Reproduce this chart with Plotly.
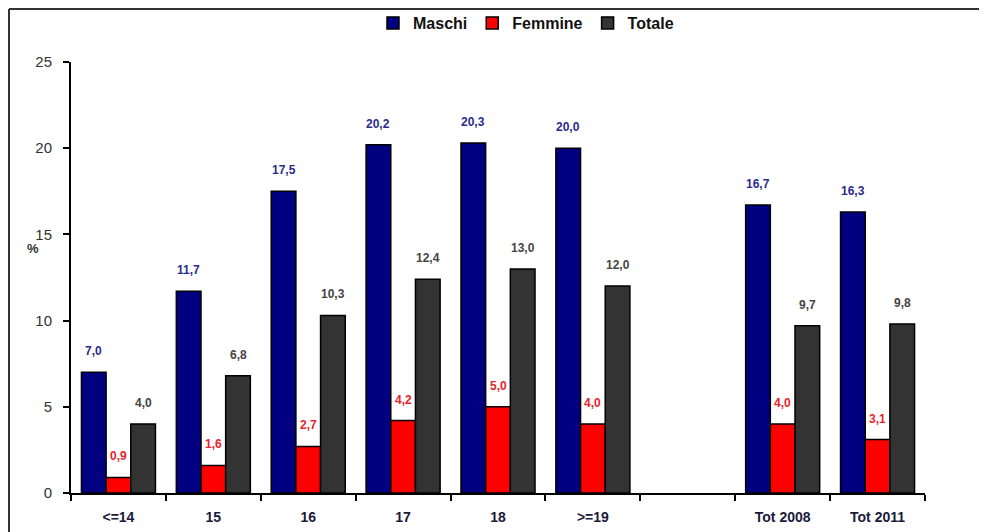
import plotly.graph_objects as go

categories = ['<=14', '15', '16', '17', '18', '>=19', ' ', 'Tot 2008', 'Tot 2011']
maschi = [7.0, 11.7, 17.5, 20.2, 20.3, 20.0, None, 16.7, 16.3]
femmine = [0.9, 1.6, 2.7, 4.2, 5.0, 4.0, None, 4.0, 3.1]
totale = [4.0, 6.8, 10.3, 12.4, 13.0, 12.0, None, 9.7, 9.8]
y_ticks = [0, 5, 10, 15, 20, 25]

series = [
    ('Maschi', maschi, '#000080', '#2b2b8c'),
    ('Femmine', femmine, '#ff0000', '#e8232b'),
    ('Totale', totale, '#333333', '#444444'),
]

# page body has an 8px margin, so the figure is a bit smaller than the window
W, H = 979, 524
L, R, T, B = 63, 62, 54, 39
PW, PH = W - L - R, H - T - B
BARGAP = 0.22

fig = go.Figure()
for name, vals, col, _ in series:
    fig.add_trace(go.Bar(
        name=name, x=categories, y=vals,
        marker=dict(color=col, line=dict(color='#000000', width=1.5)),
    ))

# value labels above bars (x as category index, shifted onto each bar of the group)
cat_px = PW / len(categories)
bar_px = cat_px * (1 - BARGAP) / len(series)
for i, (name, vals, _, tcol) in enumerate(series):
    for j, v in enumerate(vals):
        if v is None:
            continue
        fig.add_annotation(
            x=j, y=v, text=f'{v:.1f}'.replace('.', ','),
            xshift=(i - 1) * bar_px, yshift=21, showarrow=False,
            font=dict(family='Arial, Liberation Sans', size=12, color=tcol, weight='bold'),
        )

fig.add_annotation(
    xref='paper', yref='paper', x=(17 - L) / PW, y=1 - (240 - T) / PH, text='%', showarrow=False,
    font=dict(family='Arial, Liberation Sans', size=13, color='#333333', weight='bold'),
)

# outer frame (left and top edges visible)
frame_x = (1 - L) / PW
frame_y = 1 + (T - 1) / PH
fig.add_shape(type='line', xref='paper', yref='paper',
              x0=frame_x, x1=1.2, y0=frame_y, y1=frame_y,
              line=dict(color='#333333', width=2))
fig.add_shape(type='line', xref='paper', yref='paper',
              x0=frame_x, x1=frame_x, y0=-0.2, y1=frame_y,
              line=dict(color='#333333', width=2))

fig.update_layout(
    width=W, height=H,
    margin=dict(l=L, r=R, t=T, b=B, autoexpand=False),
    paper_bgcolor='white', plot_bgcolor='white',
    barmode='group', bargap=BARGAP, bargroupgap=0,
    showlegend=True,
    legend=dict(orientation='h', x=(518 - L) / PW, xanchor='center', y=1 + (T - 15) / PH, yanchor='middle',
                bgcolor='rgba(0,0,0,0)',
                font=dict(family='Liberation Sans Narrow, Arial Narrow, Arial', size=16, color='#111111', weight='bold'),
                itemwidth=30, tracegroupgap=0),
    xaxis=dict(
        type='category', categoryorder='array', categoryarray=categories,
        range=[-0.5, len(categories) - 0.5], tickangle=0,
        showline=True, linecolor='#000000', linewidth=2,
        ticks='outside', tickson='boundaries', ticklen=6, tickcolor='#000000', tickwidth=2,
        tickfont=dict(family='Arial, Liberation Sans', size=14, color='#1a1a3a', weight='bold'),
        ticklabelstandoff=10,
        showgrid=False, fixedrange=True,
    ),
    yaxis=dict(
        range=[0, 25], tickvals=y_ticks,
        showline=True, linecolor='#000000', linewidth=2,
        ticks='outside', ticklen=6, tickcolor='#000000', tickwidth=2,
        tickfont=dict(family='Arial, Liberation Sans', size=15, color='#333333'),
        ticklabelstandoff=8,
        showgrid=False, zeroline=False,
    ),
)

fig.write_html('out.html')
